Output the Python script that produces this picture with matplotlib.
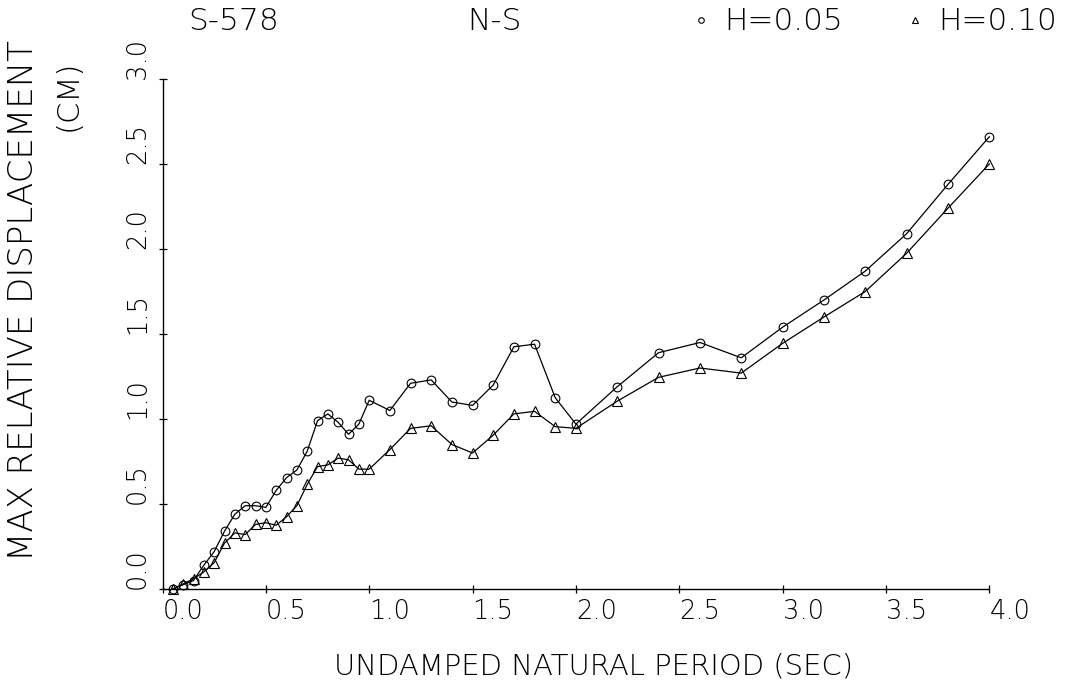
import numpy as np
import matplotlib
matplotlib.use('Agg')
import matplotlib.pyplot as plt
from matplotlib.lines import Line2D

plt.rcParams['font.family'] = ['DejaVu Sans']
plt.rcParams['font.weight'] = 200

# 주기 (sec)
period = [0.05, 0.10, 0.15, 0.20, 0.25, 0.30, 0.35, 0.40, 0.45, 0.50,
          0.55, 0.60, 0.65, 0.70, 0.75, 0.80, 0.85, 0.90, 0.95, 1.00,
          1.10, 1.20, 1.30, 1.40, 1.50, 1.60, 1.70, 1.80, 1.90, 2.00,
          2.20, 2.40, 2.60, 2.80, 3.00, 3.20, 3.40, 3.60, 3.80, 4.00]

# H=0.05 (원)
disp_h005 = [0.00, 0.025, 0.05, 0.14, 0.22, 0.34, 0.44, 0.49, 0.49, 0.48,
             0.58, 0.655, 0.70, 0.81, 0.99, 1.03, 0.98, 0.91, 0.97, 1.11,
             1.05, 1.21, 1.23, 1.10, 1.08, 1.20, 1.425, 1.44, 1.125, 0.97,
             1.19, 1.39, 1.45, 1.36, 1.54, 1.70, 1.87, 2.09, 2.38, 2.66]

# H=0.10 (삼각형)
disp_h010 = [0.00, 0.03, 0.06, 0.10, 0.155, 0.27, 0.33, 0.32, 0.38, 0.39,
             0.375, 0.425, 0.49, 0.615, 0.72, 0.73, 0.77, 0.76, 0.705, 0.705,
             0.82, 0.945, 0.96, 0.85, 0.80, 0.905, 1.03, 1.045, 0.955, 0.945,
             1.105, 1.245, 1.30, 1.27, 1.445, 1.60, 1.75, 1.975, 2.24, 2.50]

xticks = [0.0, 0.5, 1.0, 1.5, 2.0, 2.5, 3.0, 3.5, 4.0]
yticks = [0.0, 0.5, 1.0, 1.5, 2.0, 2.5, 3.0]

W, H = 1075, 687
fig = plt.figure(figsize=(W / 100, H / 100), dpi=100)
ax = fig.add_axes([162.5 / W, 98 / H, 826.8 / W, 510 / H])

ax.plot(period, disp_h005, color='black', lw=0.9, marker='o', ms=6.3,
        mfc='none', mec='black', mew=0.8, clip_on=False)
ax.plot(period, disp_h010, color='black', lw=0.9, marker='^', ms=7,
        mfc='none', mec='black', mew=0.8, clip_on=False)

ax.set_xlim(0, 4)
ax.set_ylim(0, 3)
ax.spines['top'].set_visible(False)
ax.spines['right'].set_visible(False)
ax.spines['left'].set_linewidth(1.0)
ax.spines['bottom'].set_linewidth(1.0)

ax.set_xticks(xticks)
ax.set_xticklabels(['%.1f' % v for v in xticks])
ax.set_yticks(yticks)
ax.set_yticklabels(['%.1f' % v for v in yticks])
ax.tick_params(direction='inout', length=6, width=0.9, labelsize=18.5, pad=4)
ax.tick_params(axis='y', pad=6)
for lab in ax.get_xticklabels():
    lab.set_ha('left')
for lab in ax.get_yticklabels():
    lab.set_rotation(90)
    lab.set_va('bottom')
    lab.set_ha('right')

fig.text(24 / W, 1 - 301 / H, 'MAX RELATIVE DISPLACEMENT', rotation=90,
         ha='center', va='center', fontsize=24.5)
fig.text(68 / W, 1 - 95 / H, '(CM)', rotation=90,
         ha='center', va='center', fontsize=22)
fig.text(594 / W, 1 - 666 / H, 'UNDAMPED NATURAL PERIOD (SEC)',
         ha='center', va='center', fontsize=21)

fig.text(188 / W, 1 - 22 / H, 'S-578', ha='left', va='center', fontsize=22.5)
fig.text(467 / W, 1 - 22 / H, 'N-S', ha='left', va='center', fontsize=22.5)

handles = [Line2D([], [], ls='none', marker='o', ms=4, mfc='none', mec='black', mew=0.8),
           Line2D([], [], ls='none', marker='^', ms=4.5, mfc='none', mec='black', mew=0.8)]
fig.legend(handles, ['H=0.05', 'H=0.10'], loc='center left',
           bbox_to_anchor=(695 / W, 1 - 22 / H), ncol=2, frameon=False,
           fontsize=22.5, handlelength=0.4, handletextpad=0.55,
           columnspacing=2.1, borderpad=0, borderaxespad=0)

fig.savefig('out.png', dpi=100)
